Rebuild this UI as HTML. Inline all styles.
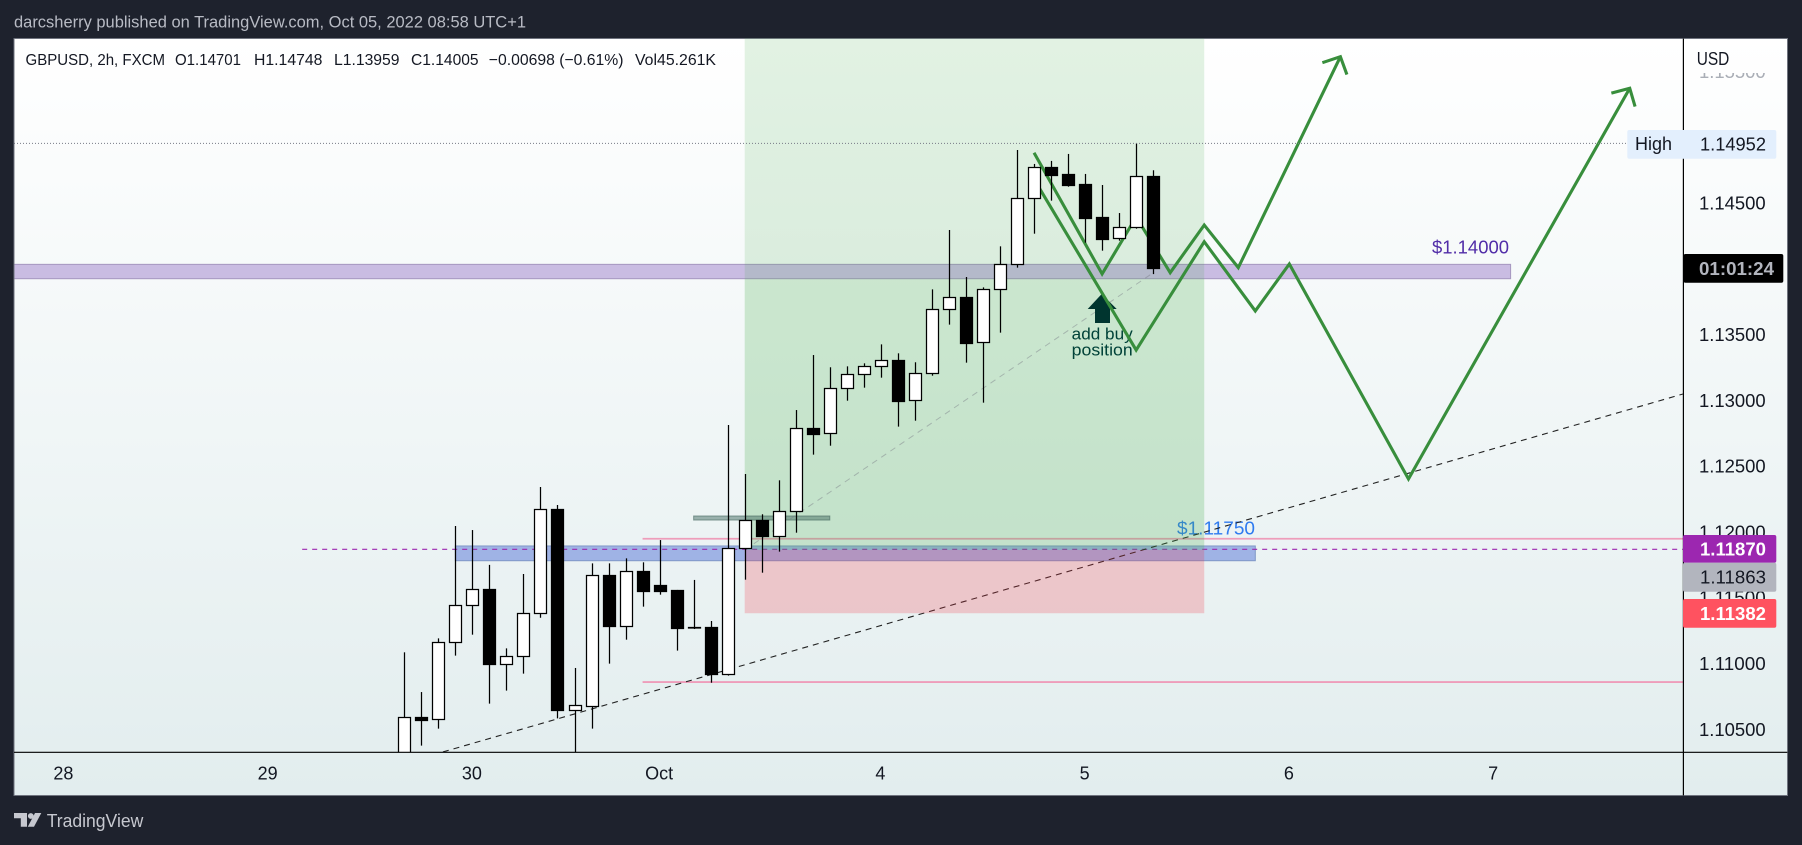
<!DOCTYPE html>
<html lang="en">
<head>
<meta charset="utf-8">
<title>GBPUSD 2h chart</title>
<style>
html,body{margin:0;padding:0;background:#1e222d;width:1802px;height:845px;overflow:hidden}
svg{display:block;font-family:"Liberation Sans",sans-serif}
</style>
</head>
<body>
<svg id="chart" xmlns="http://www.w3.org/2000/svg" width="1802" height="845" viewBox="0 0 1802 845">
  <defs>
    <linearGradient id="paneGrad" x1="0" y1="0" x2="0" y2="1">
      <stop offset="0" stop-color="#ffffff"/>
      <stop offset="1" stop-color="#e2edee"/>
    </linearGradient>
    <clipPath id="plotClip"><rect x="14.5" y="38.5" width="1668.5" height="713.5"/></clipPath>
    <clipPath id="fadeClip"><rect x="1684" y="73" width="100" height="20"/></clipPath>
  </defs>
  <rect x="0" y="0" width="1802" height="845" fill="#1e222d"/>
  <text x="14" y="27.5" font-size="16.5" fill="#b8bbc4" textLength="512" lengthAdjust="spacingAndGlyphs">darcsherry published on TradingView.com, Oct 05, 2022 08:58 UTC+1</text>
  <rect x="14" y="38.5" width="1773.5" height="757" fill="url(#paneGrad)" stroke="#6f737e" stroke-width="1"/>
  <g id="under" clip-path="url(#plotClip)"></g>
  <g id="zones" clip-path="url(#plotClip)"></g>
  <g id="overZones" clip-path="url(#plotClip)">
    <polygon points="1101.7,294 1116.7,309 1110,309 1110,323 1095,323 1095,309 1087.7,309" fill="#00352f"/>
    <text x="1071.7" y="339.5" font-size="16.5" fill="#004238" textLength="61" lengthAdjust="spacingAndGlyphs">add buy</text>
    <text x="1071.7" y="355.5" font-size="16.5" fill="#004238" textLength="61" lengthAdjust="spacingAndGlyphs">position</text>
  </g>
  <g id="paths" clip-path="url(#plotClip)"></g>
  <g id="candles" clip-path="url(#plotClip)"></g>
  <g id="highLine" clip-path="url(#plotClip)"></g>

  <g font-size="16" fill="#131722">
    <text x="25.5" y="65" textLength="139.5" lengthAdjust="spacingAndGlyphs">GBPUSD, 2h, FXCM</text>
    <text x="175" y="65" textLength="66" lengthAdjust="spacingAndGlyphs">O1.14701</text>
    <text x="254" y="65" textLength="68.4" lengthAdjust="spacingAndGlyphs">H1.14748</text>
    <text x="334" y="65" textLength="65.5" lengthAdjust="spacingAndGlyphs">L1.13959</text>
    <text x="411" y="65" textLength="67.6" lengthAdjust="spacingAndGlyphs">C1.14005</text>
    <text x="488.8" y="65" textLength="134.7" lengthAdjust="spacingAndGlyphs">−0.00698 (−0.61%)</text>
    <text x="635" y="65" textLength="81" lengthAdjust="spacingAndGlyphs">Vol45.261K</text>
  </g>

  <line x1="14" y1="752.3" x2="1787.5" y2="752.3" stroke="#000" stroke-width="1.2"/>
  <line x1="1683.4" y1="38.5" x2="1683.4" y2="795.5" stroke="#000" stroke-width="1.2"/>
  <g id="yTicks"></g>
  <g id="xTicks"></g>
  <text x="1696.7" y="65" font-size="18.5" fill="#131722" textLength="32.6" lengthAdjust="spacingAndGlyphs">USD</text>

  <g id="badges">
    <rect x="1627.3" y="130" width="149" height="28.7" rx="2" fill="#e3effd"/>
    <text x="1635" y="150" font-size="18" fill="#131722" textLength="37" lengthAdjust="spacingAndGlyphs">High</text>
    <text x="1700" y="150.5" font-size="18" fill="#131722" textLength="66" lengthAdjust="spacingAndGlyphs">1.14952</text>
    <rect x="1683.5" y="254" width="99.8" height="28.7" rx="2" fill="#000"/>
    <text x="1699" y="275" font-size="18" font-weight="bold" fill="#b2b5be" textLength="75" lengthAdjust="spacingAndGlyphs">01:01:24</text>
    <rect x="1683" y="535" width="93.3" height="27.7" rx="2" fill="#9c27b0"/>
    <text x="1700" y="555.5" font-size="18" font-weight="bold" fill="#fff" textLength="66" lengthAdjust="spacingAndGlyphs">1.11870</text>
    <rect x="1683" y="562.7" width="93.3" height="29" rx="2" fill="#b2b5be"/>
    <text x="1700" y="583.5" font-size="18" fill="#131722" textLength="66" lengthAdjust="spacingAndGlyphs">1.11863</text>
    <rect x="1683" y="599" width="93.3" height="28.7" rx="2" fill="#ff5260"/>
    <text x="1700" y="620" font-size="18" font-weight="bold" fill="#fff" textLength="66" lengthAdjust="spacingAndGlyphs">1.11382</text>
  </g>

  <g fill="#c6c8cf">
    <polygon points="14,813 27,813 27,826.7 20.8,826.7 20.8,818.2 14,818.2"/>
    <circle cx="30.8" cy="816" r="2.9"/>
    <polygon points="35,813 41.3,813 34,826.7 27.8,826.7"/>
    <text x="46.7" y="827" font-size="18" textLength="96.6" lengthAdjust="spacingAndGlyphs">TradingView</text>
  </g>
</svg>
<script>
// ---- candle data (FXCM GBPUSD 2h) ----
const opens  = [1.10292,1.10593,1.10576,1.11161,1.11442,1.11564,1.10999,1.11054,1.11381,1.12172,1.10649,1.10680,1.11672,1.11288,1.11703,1.11597,1.11559,1.11275,1.11277,1.10923,1.11875,1.12090,1.11971,1.12156,1.12787,1.12749,1.13091,1.13197,1.13258,1.13304,1.13000,1.13205,1.13691,1.13783,1.13440,1.13843,1.14033,1.14535,1.14770,1.14717,1.14641,1.14390,1.14231,1.14314,1.14701];
const highs  = [1.11085,1.10783,1.11191,1.12045,1.12014,1.11749,1.11115,1.11680,1.12341,1.12204,1.10966,1.11761,1.11761,1.11799,1.11769,1.11938,1.11559,1.11635,1.11323,1.12812,1.12440,1.12134,1.12392,1.12926,1.13344,1.13251,1.13258,1.13281,1.13425,1.13357,1.13289,1.13843,1.14294,1.13937,1.13858,1.14170,1.14902,1.14796,1.14819,1.14872,1.14720,1.14636,1.14423,1.14952,1.14748];
const lows   = [1.10216,1.10376,1.10505,1.11060,1.11219,1.10695,1.10794,1.10923,1.11348,1.10583,1.10267,1.10505,1.10999,1.11181,1.11432,1.11523,1.11098,1.11262,1.10854,1.10908,1.11637,1.11690,1.11850,1.11994,1.12587,1.12655,1.12997,1.13096,1.13172,1.12800,1.12845,1.13187,1.13575,1.13286,1.12982,1.13514,1.14008,1.14266,1.14517,1.14623,1.14198,1.14137,1.14213,1.14304,1.13959];
const closes = [1.10591,1.10573,1.11161,1.11442,1.11564,1.10999,1.11054,1.11381,1.12172,1.10649,1.10682,1.11670,1.11288,1.11700,1.11551,1.11551,1.11272,1.11275,1.10923,1.11875,1.12088,1.11971,1.12156,1.12787,1.12747,1.13091,1.13197,1.13258,1.13304,1.12997,1.13205,1.13691,1.13783,1.13438,1.13843,1.14033,1.14535,1.14770,1.14715,1.14639,1.14388,1.14228,1.14314,1.14702,1.14005];

// ---- axis tick labels ----
const priceTicks = [1.155,1.145,1.135,1.13,1.125,1.12,1.115,1.11,1.105];
const dayLabels  = ["28","29","30","Oct","4","5","6","7"];
const dayBars    = [-20,-8,4,15,28,40,52,64];

// ---- drawing anchors, as [bar index, price] data ----
const pathAIndex  = [37,41,43,45,47,49,55];
const pathAPrice  = [1.14881,1.13960,1.14393,1.13970,1.14332,1.14008,1.15611];
const pathBIndex  = [37,43,47,50,52,59,72];
const pathBPrice  = [1.14680,1.13382,1.14205,1.13679,1.14036,1.12402,1.15371];
const trendIndex  = [2.27,75.13];
const trendPrice  = [1.10328,1.13048];
const targetIndex = [20,43.9];
const targetPrice = [1.11863,1.13960];
const levelEntry = 1.11863, levelStop = 1.11382, levelSplit = 1.13924, levelTop = 1.15753;
const levelPink  = [1.11948,1.10859];
const levelPurple = 1.11868;
const levelHigh = 1.14952;
const supplyBand = [1.14033,1.13924];
const demandBand = [1.11893,1.11781];
const consolidationBand = [1.12121,1.12090];

// ---- axis functions ----
function xOf(i){ return 404.3 + 17.02 * i; }
function yOf(p){ return 729.3 - (p - 1.105) * 13160; }

const NS = "http://www.w3.org/2000/svg";
function mk(parent, tag, attrs){
  const el = document.createElementNS(NS, tag);
  for (const k in attrs) el.setAttribute(k, attrs[k]);
  parent.appendChild(el);
  return el;
}
function bandRect(parent, i0, i1, pTop, pBot, fill, stroke){
  const attrs = {x:xOf(i0), y:yOf(pTop), width:xOf(i1)-xOf(i0), height:yOf(pBot)-yOf(pTop), fill:fill};
  if (stroke){ attrs.stroke = stroke; attrs['stroke-width'] = 1; }
  return mk(parent, 'rect', attrs);
}

const under = document.getElementById('under');
const zones = document.getElementById('zones');
const paths = document.getElementById('paths');
const candles = document.getElementById('candles');
const highLine = document.getElementById('highLine');

// bands below the position zones
let el = bandRect(under, -24, 65, supplyBand[0], supplyBand[1], '#c9bce2', '#a597bf');


el = bandRect(under, 3, 50, demandBand[0], demandBand[1], '#9fb3e5', '#7f97c6');



levelPink.forEach(function(p){
  const l = mk(under, 'line', {x1:xOf(14), x2:1683, y1:yOf(p), y2:yOf(p), stroke:'#ee9dba', 'stroke-width':1.8});
  
  
});
el = mk(under, 'line', {x1:xOf(-6), x2:1683, y1:yOf(levelPurple), y2:yOf(levelPurple), stroke:'#9c27b0', 'stroke-width':1.1, 'stroke-dasharray':'5 5'});



el = mk(under, 'text', {x:1177, y:534.5, 'font-size':18, fill:'#2f7bf0', textLength:78, lengthAdjust:'spacingAndGlyphs'});
el.textContent = '$1.11750';


el = mk(under, 'text', {x:1432, y:253.5, 'font-size':18, fill:'#512da8', textLength:77, lengthAdjust:'spacingAndGlyphs'});
el.textContent = '$1.14000';



el = mk(under, 'line', {x1:xOf(trendIndex[0]), y1:yOf(trendPrice[0]), x2:xOf(trendIndex[1]), y2:yOf(trendPrice[1]), stroke:'#222', 'stroke-width':1.1, 'stroke-dasharray':'6 5'});



// long-position tool
el = bandRect(zones, 20, 47, levelTop, levelSplit, 'rgba(76,175,80,0.16)');


el = bandRect(zones, 20, 47, levelSplit, levelEntry, 'rgba(76,175,80,0.25)');


el = bandRect(zones, 20, 47, levelEntry, levelStop, 'rgba(242,54,69,0.23)');


el = bandRect(zones, 17, 25, consolidationBand[0], consolidationBand[1], 'rgba(70,110,100,0.5)', 'rgba(60,95,85,0.55)');


el = mk(zones, 'line', {x1:xOf(targetIndex[0]), y1:yOf(targetPrice[0]), x2:xOf(targetIndex[1]), y2:yOf(targetPrice[1]), stroke:'rgba(120,123,134,0.45)', 'stroke-width':1, 'stroke-dasharray':'6 5'});



// projected zig-zag paths with arrow heads
function drawPath(idx, prices, name){
  const pts = idx.map(function(v, k){ return [xOf(v), yOf(prices[k])]; });
  const a = pts[pts.length-2], b = pts[pts.length-1];
  const ang = Math.atan2(a[1]-b[1], a[0]-b[0]);
  const head = [ang+0.8, ang-0.8].map(function(t){ return [b[0]+19*Math.cos(t), b[1]+19*Math.sin(t)]; });
  const attrs = {fill:'none', stroke:'#388e3c', 'stroke-width':3.1, 'stroke-linejoin':'miter'};
  attrs.points = pts.map(function(p){ return p.join(','); }).join(' ');
  const line = mk(paths, 'polyline', attrs);
  
  
  const hAttrs = {fill:'none', stroke:'#388e3c', 'stroke-width':3.1};
  hAttrs.points = [head[0], b, head[1]].map(function(p){ return p.join(','); }).join(' ');
  const tip = mk(paths, 'polyline', hAttrs);
  
  
}
drawPath(pathAIndex, pathAPrice, 'projected-path-upper');
drawPath(pathBIndex, pathBPrice, 'projected-path-lower');

// candles
opens.forEach(function(o, i){
  const c = closes[i], h = highs[i], l = lows[i];
  const up = c >= o;
  const cx = Math.round(xOf(i)) + 0.5;
  const g = mk(candles, 'g', {});
  
  
  const wick = mk(g, 'line', {x1:cx, x2:cx, y1:yOf(h), y2:yOf(l), stroke:'#000', 'stroke-width':1.25});
  
  
  const top = Math.round(yOf(Math.max(o, c))) + 0.5;
  const bot = Math.round(yOf(Math.min(o, c))) + 0.5;
  const body = mk(g, 'rect', {x:cx-6, y:top, width:12, height:Math.max(bot-top, 0.5), fill:up ? '#fff' : '#000', stroke:'#000', 'stroke-width':1.25});
  
  
});

// high price dotted line
el = mk(highLine, 'line', {x1:14, x2:1628, y1:yOf(levelHigh), y2:yOf(levelHigh), stroke:'#787b86', 'stroke-width':1, 'stroke-dasharray':'1 2'});



// axis tick labels
const yTicks = document.getElementById('yTicks');
priceTicks.forEach(function(p){
  const t = mk(yTicks, 'text', {x:1699, y:yOf(p)+6.5, 'font-size':18, fill:'#131722', textLength:66.7, lengthAdjust:'spacingAndGlyphs'});
  t.textContent = p.toFixed(5);
  
  
  if (p >= 1.155){ t.setAttribute('clip-path', 'url(#fadeClip)'); t.setAttribute('fill', '#aaaeb6'); }
});
const xTicks = document.getElementById('xTicks');
dayLabels.forEach(function(d, k){
  const t = mk(xTicks, 'text', {x:xOf(dayBars[k])+(-0.5), y:779.5, 'font-size':18, fill:'#131722', 'text-anchor':'middle'});
  t.textContent = d;
  
  
});
</script>
</body>
</html>
